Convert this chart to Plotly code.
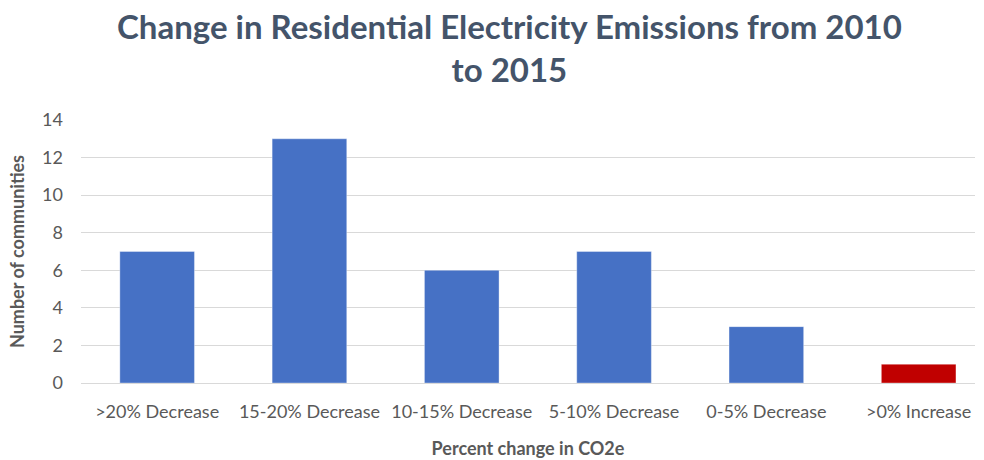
import plotly.graph_objects as go

# Community counts by percent change in residential electricity CO2e, 2010-2015
categories = [">20% Decrease", "15-20% Decrease", "10-15% Decrease",
              "5-10% Decrease", "0-5% Decrease", ">0% Increase"]
communities = [7, 13, 6, 7, 3, 1]
bar_colors = ["#4671C5", "#4671C5", "#4671C5", "#4671C5", "#4671C5", "#C00000"]
y_ticks = [0, 2, 4, 6, 8, 10, 12, 14]

text_color = "#595959"
font_family = "Lato, Open Sans, sans-serif"

fig = go.Figure(
    go.Bar(
        x=categories,
        y=communities,
        marker=dict(color=bar_colors, line=dict(color="rgba(255,255,255,0.35)", width=1)),
        width=0.49,
    )
)

fig.update_layout(
    width=984,
    height=460,
    paper_bgcolor="white",
    plot_bgcolor="white",
    margin=dict(l=81, r=9, t=120, b=77),
    showlegend=False,
    font=dict(family=font_family, color=text_color),
    annotations=[
        dict(
            text="Change in Residential Electricity Emissions from 2010<br>to 2015",
            xref="paper", yref="paper",
            x=0.479, y=1.44,
            xanchor="center", yanchor="top",
            showarrow=False,
            align="center",
            font=dict(family=font_family, size=33, color="#44546A", weight="bold"),
        )
    ],
)

fig.update_xaxes(
    range=[-0.5, 5.37],
    automargin=False,
    showgrid=False,
    showline=True,
    linecolor="#D9D9D9",
    linewidth=1,
    ticks="",
    tickfont=dict(size=18, color=text_color),
    ticklabelstandoff=12,
    title=dict(text="Percent change in CO2e",
               font=dict(size=18, color=text_color, weight="bold"),
               standoff=21),
)

fig.update_yaxes(
    range=[0, 14],
    automargin=False,
    tickvals=y_ticks,
    showgrid=True,
    gridcolor="#D9D9D9",
    gridwidth=1,
    zeroline=False,
    ticks="",
    tickfont=dict(size=18, color=text_color),
    ticklabelstandoff=17,
    title=dict(text="Number of communities",
               font=dict(size=18, color=text_color, weight="bold"),
               standoff=12),
)

fig.write_html("out.html")
